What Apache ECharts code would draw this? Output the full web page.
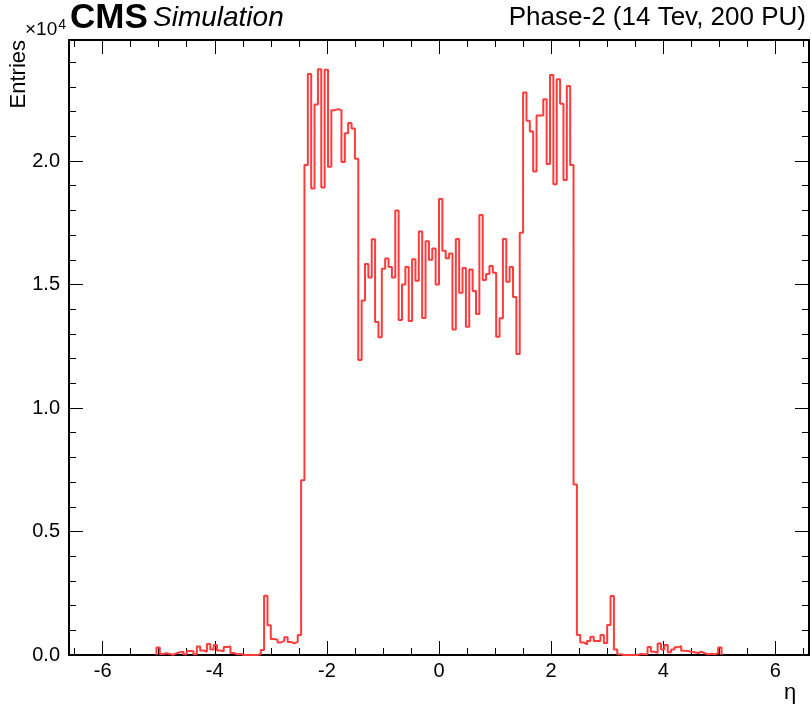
<!DOCTYPE html>
<html>
<head>
<meta charset="utf-8">
<title>eta distribution</title>
<script src="https://cdn.jsdelivr.net/npm/echarts@6/dist/echarts.min.js"></script>
<style>
  html, body { margin: 0; padding: 0; background: #ffffff; }
  #chart1 { width: 811px; height: 706px; }
</style>
</head>
<body>
<div id="chart1"></div>
<script>
// histogram: 0.06 wide bins starting at eta = -5.04, entries in units of 10^4
var etaMin = -5.04;
var binWidth = 0.06;
var entries = [
  0.030, 0.004, 0.007, 0.004, 0.001, 0.007, 0.011, 0.013, 0.003, 0.016,
  0.015, 0.003, 0.034, 0.018, 0.013, 0.045, 0.022, 0.040, 0.018, 0.015,
  0.032, 0.034, 0.008, 0.003, 0.004,
  0, 0, 0, 0, 0,
  0.003, 0.020, 0.240, 0.120,
  0.065, 0.062, 0.051, 0.057, 0.072, 0.053, 0.047, 0.053, 0.081,
  0.708,
  1.984, 2.352, 1.889, 2.229, 2.372, 1.893, 2.370, 1.977, 2.206, 2.210,
  2.206, 1.996, 2.112, 2.154, 2.132, 2.009,
  1.194, 1.435, 1.583, 1.528, 1.683, 1.348, 1.287, 1.564, 1.605, 1.571,
  1.528, 1.800, 1.356, 1.500, 1.571, 1.352, 1.602, 1.515, 1.715, 1.364,
  1.675, 1.600, 1.646, 1.500,
  1.846, 1.637, 1.606, 1.626, 1.318, 1.684, 1.467, 1.567, 1.329, 1.561,
  1.474, 1.381, 1.781, 1.518, 1.543, 1.575, 1.548, 1.289, 1.363, 1.684,
  1.511, 1.571, 1.449, 1.219,
  1.710,
  2.277, 2.163, 2.120, 1.958, 2.184, 2.184, 2.250, 1.988, 2.348, 1.906,
  2.331, 2.232, 1.923, 2.304, 1.984,
  0.690,
  0.081, 0.051, 0.043, 0.057, 0.074, 0.057, 0.057, 0.081, 0.049,
  0.121, 0.239, 0.022, 0.003,
  0, 0, 0, 0, 0,
  0.004, 0.003, 0.003, 0.032, 0.013, 0.009, 0.047, 0.022, 0.040, 0.011,
  0.022, 0.031, 0.036, 0.017, 0.016, 0.013, 0.011, 0.008, 0.013, 0.007,
  0.003, 0.005, 0.003, 0.007, 0.030
];

var xLabelTicks = [-6, -4, -2, 0, 2, 4, 6];
var xMinorTicks = [-6.5, -6, -5.5, -5, -4.5, -4, -3.5, -3, -2.5, -2, -1.5, -1, -0.5, 0,
                   0.5, 1, 1.5, 2, 2.5, 3, 3.5, 4, 4.5, 5, 5.5, 6, 6.5];
var yLabelTicks = [0, 0.5, 1, 1.5, 2];
var yMinorTicks = [0.1, 0.2, 0.3, 0.4, 0.6, 0.7, 0.8, 0.9, 1.1, 1.2, 1.3, 1.4,
                   1.6, 1.7, 1.8, 1.9, 2.1, 2.2, 2.3, 2.4];

var xRange = [-6.6, 6.6];
var yRange = [0, 2.49];

var fontName = '"Liberation Sans", Arial, Helvetica, sans-serif';

// step points for the histogram outline
var histPoints = [[etaMin, 0]];
for (var i = 0; i < entries.length; i++) {
  histPoints.push([etaMin + i * binWidth, entries[i]]);
}
var etaMax = etaMin + entries.length * binWidth;
histPoints.push([etaMax, entries[entries.length - 1]]);
histPoints.push([etaMax, 0]);

function frameAxis(position, range, ticks, tickLen, showLine, label) {
  return {
    type: 'value',
    position: position,
    min: range[0],
    max: range[1],
    axisLine: { show: showLine, onZero: false, lineStyle: { color: '#000', width: 2 } },
    axisTick: { show: true, inside: true, length: tickLen, customValues: ticks,
                lineStyle: { color: '#000', width: 1 } },
    axisLabel: label || { show: false },
    splitLine: { show: false }
  };
}

option1 = {
  backgroundColor: '#ffffff',
  animation: false,
  grid: { left: 69, right: 2, top: 40, bottom: 51 },
  xAxis: [
    frameAxis('bottom', xRange, xLabelTicks, 14, true, {
      show: true, customValues: xLabelTicks, color: '#000', fontSize: 20,
      fontFamily: fontName, margin: 6
    }),
    frameAxis('bottom', xRange, xMinorTicks, 7, false),
    frameAxis('top', xRange, xLabelTicks, 14, true),
    frameAxis('top', xRange, xMinorTicks, 7, false)
  ],
  yAxis: [
    frameAxis('left', yRange, yLabelTicks, 14, true, {
      show: true, customValues: yLabelTicks, color: '#000', fontSize: 20,
      fontFamily: fontName, margin: 9,
      formatter: function (v) { return v.toFixed(1); }
    }),
    frameAxis('left', yRange, yMinorTicks, 7, false),
    frameAxis('right', yRange, yLabelTicks, 14, true),
    frameAxis('right', yRange, yMinorTicks, 7, false)
  ],
  graphic: [
    { type: 'text', left: 70, top: 1,
      style: { text: 'CMS', font: 'bold 35px ' + fontName, fill: '#000' } },
    { type: 'text', left: 153, top: 4,
      style: { text: 'Simulation', font: 'italic 28px ' + fontName, fill: '#000' } },
    { type: 'text', right: 5, top: 5,
      style: { text: 'Phase-2 (14 Tev, 200 PU)', font: '26px ' + fontName, fill: '#000' } },
    { type: 'text', left: 25, top: 18,
      style: {
        text: '×10{s|4}', font: '19px ' + fontName, fill: '#000',
        rich: { s: { fontSize: 14, fontFamily: fontName, verticalAlign: 'top', padding: [0, 0, 9, 1] } }
      } },
    { type: 'text', x: 19, y: 40, rotation: Math.PI / 2,
      style: { text: 'Entries', font: '22px ' + fontName, fill: '#000',
               textAlign: 'right', textVerticalAlign: 'middle' } },
    { type: 'text', x: 790, y: 693,
      style: { text: 'η', font: '22px ' + fontName, fill: '#000',
               textAlign: 'center', textVerticalAlign: 'middle' } }
  ],
  series: [
    {
      name: 'eta',
      type: 'line',
      step: 'end',
      xAxisIndex: 0,
      yAxisIndex: 0,
      showSymbol: false,
      symbol: 'none',
      lineStyle: { color: '#ff3c3c', width: 2 },
      data: histPoints
    }
  ]
};

var myChart1 = echarts.init(document.getElementById('chart1'));
myChart1.setOption(option1);
</script>
</body>
</html>
